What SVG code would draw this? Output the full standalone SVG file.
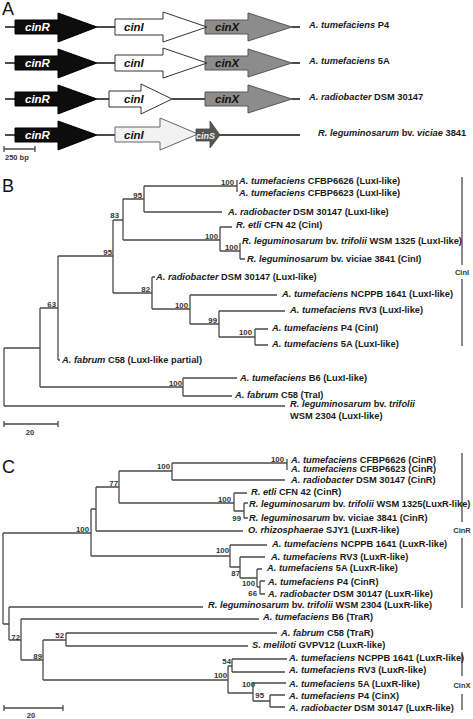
<svg xmlns="http://www.w3.org/2000/svg" width="473" height="719" viewBox="0 0 473 719">
<style>
.ln{stroke:#4a4a4a;stroke-width:1.3;fill:none}
.bb{stroke:#111;stroke-width:1.5;fill:none}
.t{font-family:"Liberation Sans",Arial,sans-serif;font-weight:bold;font-size:9.3px;fill:#1a1a1a}
.i{font-style:italic}
.bs{font-family:"Liberation Sans",Arial,sans-serif;font-weight:bold;font-size:7.8px;fill:#333;text-anchor:end}
.gl{font-family:"Liberation Sans",Arial,sans-serif;font-weight:bold;font-style:italic;font-size:11.5px}
.pl{font-family:"Liberation Sans",Arial,sans-serif;font-size:18px;fill:#111}
.cl{font-family:"Liberation Sans",Arial,sans-serif;font-weight:bold;font-size:7.5px;fill:#333;text-anchor:middle}
.R{fill:#0d0d0d;stroke:#000;stroke-width:1}
.I{fill:#fff;stroke:#333;stroke-width:1}
.X{fill:#8c8c8c;stroke:#555;stroke-width:1}
</style>
<defs>
<polygon id="gR" points="15,-7 58,-7 58,-14 97,0 58,15 58,7 15,7"/>
<polygon id="gX" points="205,-7 248,-7 248,-14 292,0 248,14 248,7 205,7"/>
</defs>

<!-- Panel A -->
<g id="panelA">
<text class="pl" x="2" y="15">A</text>
<g id="connectors-A">
<path class="bb" d="M5,27H15M97,27H115M292,27H300"/>
<path class="bb" d="M5,63H15M97,63H115M292,63H300"/>
<path class="bb" d="M5,99H15M97,99H109M172,99H205M292,99H300"/>
<path class="bb" d="M5,135H15M97,135H115M218,135H300"/>
</g>
<g id="row1">
<g id="r1-cinR" transform="translate(0,27)"><use href="#gR" class="R"/><text class="gl" x="25" y="4" fill="#fff">cinR</text></g>
<g id="r1-cinX" transform="translate(0,27)"><use href="#gX" class="X"/><text class="gl" x="215" y="4" fill="#111">cinX</text></g>
<g id="r1-cinI"><polygon class="I" points="115,19 163,19 163,12 207,27 163,42 163,35 115,35"/><text class="gl" x="124" y="31" fill="#111">cinI</text></g>
<text class="t" x="309" y="27.5"><tspan class="i">A. tumefaciens</tspan> P4</text>
</g>
<g id="row2">
<g id="r2-cinR" transform="translate(0,63)"><use href="#gR" class="R"/><text class="gl" x="25" y="4" fill="#fff">cinR</text></g>
<g id="r2-cinX" transform="translate(0,63)"><use href="#gX" class="X"/><text class="gl" x="215" y="4" fill="#111">cinX</text></g>
<g id="r2-cinI"><polygon class="I" points="115,55 163,55 163,48 207,63 163,78 163,71 115,71"/><text class="gl" x="124" y="67" fill="#111">cinI</text></g>
<text class="t" x="309" y="64"><tspan class="i">A. tumefaciens</tspan> 5A</text>
</g>
<g id="row3">
<g id="r3-cinR" transform="translate(0,99)"><use href="#gR" class="R"/><text class="gl" x="25" y="4" fill="#fff">cinR</text></g>
<g id="r3-cinX" transform="translate(0,99)"><use href="#gX" class="X"/><text class="gl" x="215" y="4" fill="#111">cinX</text></g>
<g id="r3-cinI"><polygon class="I" points="109,91 141,91 141,84 172,99 141,114 141,107 109,107"/><text class="gl" x="124" y="103" fill="#111">cinI</text></g>
<text class="t" x="309" y="100"><tspan class="i">A. radiobacter</tspan> DSM 30147</text>
</g>
<g id="row4">
<g id="r4-cinR" transform="translate(0,135)"><use href="#gR" class="R"/><text class="gl" x="25" y="4" fill="#fff">cinR</text></g>
<g id="r4-cinI"><polygon points="115,127 160,127 160,118 198,134 160,150 160,142 115,142" fill="#f2f2f2" stroke="#666" stroke-width="1"/><text class="gl" x="124" y="139" fill="#111">cinI</text></g>
<g id="r4-cinS"><polygon points="196,129 210,129 210,121 220,135 210,148 210,141 196,141" fill="#555" stroke="#444" stroke-width="0.8"/><text x="196" y="139" font-family="Liberation Sans,Arial,sans-serif" font-weight="bold" font-style="italic" font-size="9px" fill="#eee">cinS</text></g>
<text class="t" x="318" y="135.5"><tspan class="i">R. leguminosarum</tspan> bv. <tspan class="i">viciae</tspan> 3841</text>
</g>
<g id="scaleA">
<path class="ln" d="M4,149H35M4,146V152M35,146V152"/>
<text x="5" y="160" font-family="Liberation Sans,Arial,sans-serif" font-weight="bold" font-size="7.5px" fill="#333">250 bp</text>
</g>
</g>

<!-- Panel B -->
<g id="panelB">
<text class="pl" x="2" y="192">B</text>
<g id="connectors-B">
<path class="ln" d="M144,186H237M237,180V192M144,212H222M144,186V212M123,199H144M123,199V240M123,240H220M220,227V251M220,227H232M220,251H240M240,243V259M240,259H245M113,220H123M113,220V293M113,293H152M152,277V309M152,277H155M152,309H190M190,295V324M190,295H277M190,324H219M219,311V337M219,311H285M219,337H255M255,329V345M255,329H268M255,345H268M58,256H113M58,256V360M58,360H60M40,308H58M40,308V387M40,387H183M183,378V396M183,378H237M183,396H232M4,348H40M4,348V406M4,406H285"/>
<path class="ln" d="M462,177V265M462,279V346"/>
</g>
<g id="bootB">
<text class="bs" x="234" y="185">100</text>
<text class="bs" x="142" y="198">95</text>
<text class="bs" x="119" y="218">83</text>
<text class="bs" x="218" y="238.5">100</text>
<text class="bs" x="238" y="250">100</text>
<text class="bs" x="112" y="255">95</text>
<text class="bs" x="150" y="291.5">82</text>
<text class="bs" x="188" y="307.5">100</text>
<text class="bs" x="217" y="322.5">99</text>
<text class="bs" x="252" y="335">100</text>
<text class="bs" x="56" y="307">63</text>
<text class="bs" x="182" y="386">100</text>
</g>
<g id="leavesB">
<g id="b1"><text class="t" x="239" y="183.5"><tspan class="i">A. tumefaciens</tspan> CFBP6626 (LuxI-like)</text></g>
<g id="b2"><text class="t" x="239" y="195.5"><tspan class="i">A. tumefaciens</tspan> CFBP6623 (LuxI-like)</text></g>
<g id="b3"><text class="t" x="228" y="215"><tspan class="i">A. radiobacter</tspan> DSM 30147 (LuxI-like)</text></g>
<g id="b4"><text class="t" x="236" y="228"><tspan class="i">R. etli</tspan> CFN 42 (CinI)</text></g>
<g id="b5"><text class="t" x="242" y="244"><tspan class="i">R. leguminosarum</tspan> bv. <tspan class="i">trifolii</tspan> WSM 1325 (LuxI-like)</text></g>
<g id="b6"><text class="t" x="247" y="262"><tspan class="i">R. leguminosarum</tspan> bv. viciae 3841 (CinI)</text></g>
<g id="b7"><text class="t" x="156" y="280"><tspan class="i">A. radiobacter</tspan> DSM 30147 (LuxI-like)</text></g>
<g id="b8"><text class="t" x="282" y="297"><tspan class="i">A. tumefaciens</tspan> NCPPB 1641 (LuxI-like)</text></g>
<g id="b9"><text class="t" x="290" y="313"><tspan class="i">A. tumefaciens</tspan> RV3 (LuxI-like)</text></g>
<g id="b10"><text class="t" x="272" y="331"><tspan class="i">A. tumefaciens</tspan> P4 (CinI)</text></g>
<g id="b11"><text class="t" x="272" y="347"><tspan class="i">A. tumefaciens</tspan> 5A (LuxI-like)</text></g>
<g id="b12"><text class="t" x="62" y="363"><tspan class="i">A. fabrum</tspan> C58 (LuxI-like partial)</text></g>
<g id="b13"><text class="t" x="240" y="380.5"><tspan class="i">A. tumefaciens</tspan> B6 (LuxI-like)</text></g>
<g id="b14"><text class="t" x="235" y="397.5"><tspan class="i">A. fabrum</tspan> C58 (TraI)</text></g>
<g id="b15"><text class="t" x="290" y="407"><tspan class="i">R. leguminosarum</tspan> bv. <tspan class="i">trifolii</tspan></text><text class="t" x="290" y="419">WSM 2304 (LuxI-like)</text></g>
</g>
<text class="cl" x="462" y="275" font-size="8px">CinI</text>
<g id="scaleB">
<path class="ln" d="M4,424H58M4,421V427M58,421V427"/>
<text class="cl" x="30" y="435" font-size="8px">20</text>
</g>
</g>

<!-- Panel C -->
<g id="panelC">
<text class="pl" x="2" y="473">C</text>
<g id="connectors-C">
<path class="ln" d="M172,463H287M287,459V470M172,463V480M172,480H285M119,471H172M119,471V503M119,503H234M234,493V511M234,493H247M234,511H244M244,503V518M244,503H248M244,518H248M96,487H119M96,487V531M96,531H243M91,509H96M91,509V556M91,556H230M3,533H91M3,533V624M3,624H9M230,545V567M230,545H267M230,567H240M240,557V578M240,557H265M240,578H257M257,569V587M257,569H262M257,587H260M260,581V594M260,581H265M260,594H265M9,607V640M9,607H203M9,640H21M21,619V660M21,619H259M21,660H43M43,640V680M43,640H66M43,680H228M66,633V646M66,633H277M66,646H248M228,666V693M228,666H232M228,693H253M232,659V672M232,659H287M232,672H285M253,683V701M253,683H286M253,701H270M270,695V707M270,695H285M270,707H285"/>
<path class="ln" d="M462,453V522M462,538V608M462,652V676M462,694V710"/>
</g>
<g id="bootC">
<text class="bs" x="284" y="462">100</text>
<text class="bs" x="170" y="469">100</text>
<text class="bs" x="118" y="485.5">77</text>
<text class="bs" x="231" y="502">100</text>
<text class="bs" x="241" y="521">99</text>
<text class="bs" x="89" y="532">100</text>
<text class="bs" x="229" y="553">100</text>
<text class="bs" x="240" y="576">87</text>
<text class="bs" x="255" y="586">100</text>
<text class="bs" x="257" y="596">66</text>
<text class="bs" x="20" y="639.5">72</text>
<text class="bs" x="64" y="638">52</text>
<text class="bs" x="42" y="659">89</text>
<text class="bs" x="231" y="664">54</text>
<text class="bs" x="227" y="678">100</text>
<text class="bs" x="255" y="687">100</text>
<text class="bs" x="264" y="698">95</text>
</g>
<g id="leavesC">
<g id="c1"><text class="t" x="291" y="463" font-size="8.8px"><tspan class="i">A. tumefaciens</tspan> CFBP6626 (CinR)</text></g>
<g id="c2"><text class="t" x="291" y="472" font-size="8.8px"><tspan class="i">A. tumefaciens</tspan> CFBP6623 (CinR)</text></g>
<g id="c3"><text class="t" x="291" y="483"><tspan class="i">A. radiobacter</tspan> DSM 30147 (CinR)</text></g>
<g id="c4"><text class="t" x="251" y="494.5"><tspan class="i">R. etli</tspan> CFN 42 (CinR)</text></g>
<g id="c5"><text class="t" x="249" y="506.5"><tspan class="i">R. leguminosarum</tspan> bv. <tspan class="i">trifolii</tspan> WSM 1325(LuxR-like)</text></g>
<g id="c6"><text class="t" x="249" y="520.5"><tspan class="i">R. leguminosarum</tspan> bv. viciae 3841 (CinR)</text></g>
<g id="c7"><text class="t" x="248" y="532.5"><tspan class="i">O. rhizosphaerae</tspan>  SJY1 (LuxR-like)</text></g>
<g id="c8"><text class="t" x="272" y="546.5"><tspan class="i">A. tumefaciens</tspan> NCPPB 1641 (LuxR-like)</text></g>
<g id="c9"><text class="t" x="271" y="559.5"><tspan class="i">A. tumefaciens</tspan> RV3 (LuxR-like)</text></g>
<g id="c10"><text class="t" x="267" y="570.5"><tspan class="i">A. tumefaciens</tspan> 5A (LuxR-like)</text></g>
<g id="c11"><text class="t" x="268" y="584.5"><tspan class="i">A. tumefaciens</tspan> P4 (CinR)</text></g>
<g id="c12"><text class="t" x="268" y="596.5"><tspan class="i">A. radiobacter</tspan> DSM 30147 (LuxR-like)</text></g>
<g id="c13"><text class="t" x="208" y="608"><tspan class="i">R. leguminosarum</tspan> bv. <tspan class="i">trifolii</tspan> WSM 2304 (LuxR-like)</text></g>
<g id="c14"><text class="t" x="263" y="619.5"><tspan class="i">A. tumefaciens</tspan> B6 (TraR)</text></g>
<g id="c15"><text class="t" x="281" y="635.5"><tspan class="i">A. fabrum</tspan> C58 (TraR)</text></g>
<g id="c16"><text class="t" x="252" y="647.5"><tspan class="i">S. meliloti</tspan> GVPV12 (LuxR-like)</text></g>
<g id="c17"><text class="t" x="289" y="660.5"><tspan class="i">A. tumefaciens</tspan> NCPPB 1641 (LuxR-like)</text></g>
<g id="c18"><text class="t" x="289" y="672.5"><tspan class="i">A. tumefaciens</tspan> RV3 (LuxR-like)</text></g>
<g id="c19"><text class="t" x="289" y="686.5"><tspan class="i">A. tumefaciens</tspan> 5A (LuxR-like)</text></g>
<g id="c20"><text class="t" x="289" y="698.5"><tspan class="i">A. tumefaciens</tspan> P4 (CinX)</text></g>
<g id="c21"><text class="t" x="289" y="710.5"><tspan class="i">A. radiobacter</tspan> DSM 30147 (LuxR-like)</text></g>
</g>
<text class="cl" x="462" y="533">CinR</text>
<text class="cl" x="462" y="688">CinX</text>
<g id="scaleC">
<path class="ln" d="M4,708H63M4,705V711M63,705V711"/>
<text class="cl" x="31" y="718" font-size="8px">20</text>
</g>
</g>
</svg>
